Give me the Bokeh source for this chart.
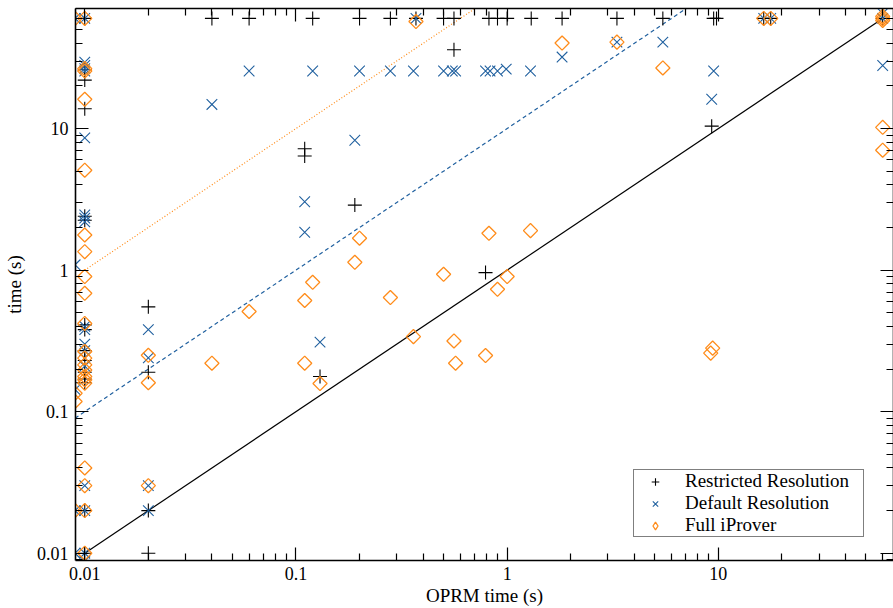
import numpy as np
from bokeh.plotting import figure
from bokeh.models import (LogAxis, FixedTicker, CustomJSTickFormatter, Legend,
                          LegendItem, Range1d, CDSView, IndexFilter, ColumnDataSource)
from bokeh.embed import file_html
from bokeh.resources import INLINE

# ---------------- data ----------------
restricted_x = [0.01, 0.04, 0.06, 0.12, 0.2, 0.28, 0.37, 0.5, 0.56, 0.82, 0.9, 1.0, 1.3,
                1.82, 3.31, 5.46, 9.5, 9.8, 16.4, 17.7, 60,
                0.01, 0.01, 0.01, 0.01, 0.01, 0.01, 0.01, 0.01, 0.01, 0.01, 0.01, 0.01,
                0.01, 0.01, 0.009,
                0.02, 0.02, 0.02, 0.02,
                0.11, 0.11, 0.13, 0.19, 0.56, 0.79, 9.3]
restricted_y = [60, 60, 60, 60, 60, 60, 60, 60, 60, 60, 60, 60, 60,
                60, 60, 60, 60, 60, 60, 60, 60,
                26, 22, 13.8, 2.4, 2.25, 0.41, 0.38, 0.27, 0.23, 0.19, 0.17, 0.16,
                0.02, 0.01, 0.16,
                0.55, 0.19, 0.02, 0.01,
                7.2, 6.4, 0.177, 2.88, 36, 0.96, 10.4]

default_x = [0.01, 0.009, 0.01, 0.01, 0.01, 0.01, 0.01, 0.01, 0.01, 0.01, 0.01, 0.01,
             0.01, 0.01, 0.01, 0.01, 0.01, 0.01, 0.01, 0.01,
             0.009, 0.009, 0.009, 0.009,
             0.02, 0.02, 0.02, 0.02,
             0.04, 0.06, 0.11, 0.11, 0.12, 0.13, 0.19,
             0.2, 0.28, 0.36, 0.5, 0.55, 0.57, 0.79, 0.83, 0.9, 0.99, 1.29,
             0.37, 1.82, 3.31, 5.46, 9.5, 9.3, 16.4, 17.7, 60, 60, 60]
default_y = [60, 60, 29.4, 27.9, 26.5, 25.5, 8.6, 2.45, 2.33, 2.19, 0.40, 0.38,
             0.30, 0.27, 0.24, 0.21, 0.03, 0.02, 0.01, 0.0088,
             1.09, 0.143, 0.02, 0.01,
             0.38, 0.24, 0.03, 0.02,
             14.8, 25.5, 3.04, 1.85, 25.5, 0.31, 8.27,
             25.5, 25.5, 25.5, 25.5, 25.5, 25.5, 25.5, 25.5, 25.5, 26.3, 25.5,
             60, 32, 40.8, 40.8, 25.5, 16.1, 60, 60, 65, 60, 27.9]

full_x = [0.01, 0.009, 0.01, 0.01, 0.01, 0.01, 0.01, 0.01, 0.01, 0.01, 0.01, 0.01,
          0.01, 0.01, 0.01, 0.01, 0.01, 0.01, 0.01, 0.01, 0.01, 0.01,
          0.009, 0.009, 0.009,
          0.02, 0.02, 0.02,
          0.04, 0.06, 0.11, 0.11, 0.12, 0.13, 0.19, 0.2, 0.28, 0.36, 0.37, 0.5,
          0.56, 0.57, 0.79, 0.82, 0.9, 1.0, 1.29, 1.82, 3.31, 5.46, 9.4, 9.2,
          16.4, 17.7, 60, 60, 60, 60, 60]
full_y = [60, 60, 26.5, 25.5, 16.1, 5.08, 1.77, 1.35, 0.90, 0.686, 0.42, 0.266,
          0.239, 0.214, 0.197, 0.177, 0.168, 0.159, 0.04, 0.03, 0.02, 0.01,
          0.135, 0.118, 0.02,
          0.25, 0.16, 0.03,
          0.22, 0.51, 0.61, 0.22, 0.82, 0.158, 1.135, 1.68, 0.64, 0.339, 57, 0.934,
          0.316, 0.22, 0.249, 1.82, 0.732, 0.90, 1.90, 40.2, 40.8, 26.8, 0.281, 0.259,
          60, 60, 60, 58, 62, 10.2, 7.03]

# reference lines y = x, y = 10x, y = 100x
diag_x = [0.01, 60]
diag_y = [0.01, 60]
ten_x = [0.009, 7.1]
ten_y = [0.09, 71]
hundred_x = [0.01, 0.71]
hundred_y = [1.0, 71]

major_ticks = [0.01, 0.1, 1, 10]
minor_ticks = [m * 10.0 ** e for e in range(-3, 2) for m in range(2, 10)]

series_labels = ["Restricted Resolution", "Default Resolution", "Full iProver"]

BLUE = "#20609f"
ORANGE = "#ff8c1a"
FONT = "Liberation Serif"

# ---------------- figure ----------------
p = figure(width=893, height=608, x_axis_type="log", y_axis_type="log",
           x_range=Range1d(0.00904, 67.5), y_range=Range1d(0.00888, 70.5),
           output_backend="svg", toolbar_location=None,
           min_border_left=73, min_border_right=0, min_border_top=8,
           min_border_bottom=47)
p.xgrid.visible = False
p.ygrid.visible = False
p.outline_line_color = None
p.background_fill_color = "white"
p.border_fill_color = "white"


def style_axis(ax, labels=True):
    ax.ticker = FixedTicker(ticks=major_ticks, minor_ticks=minor_ticks)
    ax.axis_line_width = 1.6
    ax.axis_line_color = "black"
    ax.major_tick_in = 13
    ax.major_tick_out = 0
    ax.minor_tick_in = 7
    ax.minor_tick_out = 0
    ax.major_tick_line_width = 1.2
    ax.minor_tick_line_width = 1.2
    ax.major_tick_line_color = "black"
    ax.minor_tick_line_color = "black"
    if labels:
        ax.formatter = CustomJSTickFormatter(code="return tick.toString();")
        ax.major_label_text_font = FONT
        ax.major_label_text_font_size = "18px"
        ax.major_label_text_color = "black"
        ax.axis_label_text_font = FONT
        ax.axis_label_text_font_size = "19px"
        ax.axis_label_text_font_style = "normal"
        ax.axis_label_text_color = "black"
    else:
        ax.formatter = CustomJSTickFormatter(code="return '';")
        ax.major_label_text_font_size = "0px"
        ax.major_label_standoff = 0


style_axis(p.xaxis[0])
style_axis(p.yaxis[0])
p.xaxis[0].axis_label = "OPRM time (s)"
p.yaxis[0].axis_label = "time (s)"
p.xaxis[0].major_label_standoff = 6
p.yaxis[0].major_label_standoff = 7
p.xaxis[0].axis_label_standoff = 2
p.yaxis[0].axis_label_standoff = 9

top = LogAxis()
style_axis(top, labels=False)
p.add_layout(top, "above")
right = LogAxis()
style_axis(right, labels=False)
p.add_layout(right, "right")

# reference lines
p.line(diag_x, diag_y, line_color="black", line_width=1.2)
p.line(ten_x, ten_y, line_color=BLUE, line_width=1.2, line_dash="4 3")
p.line(hundred_x, hundred_y, line_color=ORANGE, line_width=1.2, line_dash="1 2")

r1 = p.scatter(restricted_x, restricted_y, marker="cross", size=14,
               line_color="black", line_width=1.1)
r2 = p.scatter(default_x, default_y, marker="x", size=15,
               line_color=BLUE, line_width=1.1)
full_src = ColumnDataSource(data=dict(x=full_x, y=full_y))
r3 = p.scatter("x", "y", source=full_src, marker="square", angle=np.pi / 4, size=10,
               fill_color=None, line_color=ORANGE, line_width=1.3)
# legend-only twin of the Full iProver series: a vanishingly small glyph on a
# single point hidden inside the dense timeout cluster; the legend sizes it itself
r3_leg = p.scatter("x", "y", source=full_src, marker="diamond", size=0.1,
                   fill_color=None, line_color=ORANGE, line_width=1.3,
                   view=CDSView(filter=IndexFilter(indices=[54])))

legend = Legend(items=[LegendItem(label=series_labels[0], renderers=[r1]),
                       LegendItem(label=series_labels[1], renderers=[r2]),
                       LegendItem(label=series_labels[2], renderers=[r3_leg])],
                location=(558, 23))
legend.label_text_font = FONT
legend.label_text_font_size = "19px"
legend.label_text_color = "black"
legend.border_line_color = "black"
legend.border_line_width = 1
legend.background_fill_color = "white"
legend.background_fill_alpha = 1
legend.padding = 0
legend.spacing = 0
legend.margin = 0
legend.glyph_height = 19
legend.glyph_width = 42
legend.label_height = 19
legend.label_standoff = 9
legend.label_width = 178
p.add_layout(legend)

open("out.html", "w").write(file_html(p, INLINE))
